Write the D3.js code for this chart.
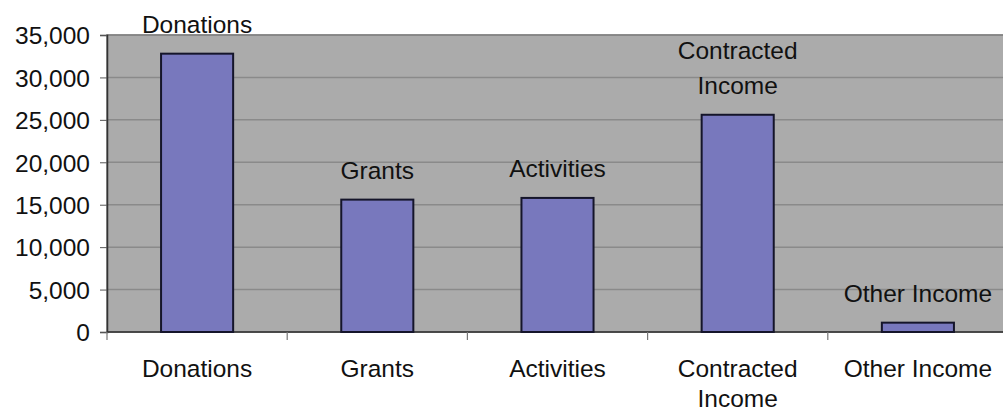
<!DOCTYPE html>
<html>
<head>
<meta charset="utf-8">
<script src="https://cdn.jsdelivr.net/npm/d3@7"></script>
<style>
body { margin: 0; background: #fff; }
text { font-family: "Liberation Sans", Arial, sans-serif; fill: #111; }
</style>
</head>
<body>
<script>
// data
var categories = ["Donations", "Grants", "Activities", "Contracted Income", "Other Income"];
var values = [32800, 15600, 15800, 25600, 1100];
var axisLines = [["Donations"], ["Grants"], ["Activities"], ["Contracted", "Income"], ["Other Income"]];
var barLines = [["Donations"], ["Grants"], ["Activities"], ["Contracted", "Income"], ["Other Income"]];
var yTicks = [0, 5000, 10000, 15000, 20000, 25000, 30000, 35000];

var width = 1003, height = 413;
var plotL = 107, plotR = 1008, plotT = 35, plotB = 332;
var fs = '24.5px';

var svg = d3.select('body')
	.append('svg')
	.attr('width', width)
	.attr('height', height);

var x = d3.scaleBand()
	.domain(categories)
	.range([plotL, plotR])
	.paddingInner(0.6)
	.paddingOuter(0.3);

var y = d3.scaleLinear()
	.domain([0, 35000])
	.range([plotB, plotT]);

// plot background
svg.append('rect')
	.attr('x', plotL)
	.attr('y', plotT)
	.attr('width', plotR - plotL)
	.attr('height', plotB - plotT)
	.attr('fill', '#ababab')
	.attr('stroke', '#707070')
	.attr('stroke-width', 1.5);

// gridlines
svg.selectAll('line.grid')
	.data(yTicks.slice(1))
	.enter().append('line')
	.attr('class', 'grid')
	.attr('x1', plotL)
	.attr('x2', plotR)
	.attr('y1', function(d) { return y(d); })
	.attr('y2', function(d) { return y(d); })
	.attr('stroke', '#8a8a8a')
	.attr('stroke-width', 1.5);

// y axis
var yAxis = svg.append('g')
	.attr('transform', 'translate(' + plotL + ',0)')
	.call(d3.axisLeft(y).tickValues(yTicks).tickSize(7).tickPadding(10)
		.tickFormat(d3.format(',')));
yAxis.selectAll('text').style('font-size', fs).attr('dy', '0.36em');
yAxis.select('.domain').attr('stroke', '#333').attr('stroke-width', 1.5);
yAxis.selectAll('.tick line').attr('stroke', '#555');

// x axis (ticks between categories)
var bounds = d3.range(categories.length + 1).map(function(i) { return plotL + i * (plotR - plotL) / categories.length; });
svg.append('line')
	.attr('x1', plotL).attr('x2', plotR)
	.attr('y1', plotB).attr('y2', plotB)
	.attr('stroke', '#333').attr('stroke-width', 1.5);
svg.selectAll('line.xtick')
	.data(bounds)
	.enter().append('line')
	.attr('class', 'xtick')
	.attr('x1', function(d) { return d; })
	.attr('x2', function(d) { return d; })
	.attr('y1', plotB)
	.attr('y2', plotB + 8)
	.attr('stroke', '#777')
	.attr('stroke-width', 1.2);

// bars
svg.selectAll('rect.bar')
	.data(values)
	.enter().append('rect')
	.attr('class', 'bar')
	.attr('x', function(d, i) { return x(categories[i]); })
	.attr('y', function(d) { return y(d); })
	.attr('width', x.bandwidth())
	.attr('height', function(d) { return plotB - y(d); })
	.attr('fill', '#7878bd')
	.attr('stroke', '#15152a')
	.attr('stroke-width', 2);

// category labels
svg.selectAll('text.cat')
	.data(axisLines)
	.enter().append('text')
	.attr('class', 'cat')
	.attr('text-anchor', 'middle')
	.style('font-size', fs)
	.each(function(d, i) {
		var t = d3.select(this);
		var cx = x(categories[i]) + x.bandwidth() / 2;
		d.forEach(function(s, k) {
			t.append('tspan').attr('x', cx).attr('y', 377 + k * 30).text(s);
		});
	});

// value labels above bars
svg.selectAll('text.lab')
	.data(barLines)
	.enter().append('text')
	.attr('class', 'lab')
	.attr('text-anchor', 'middle')
	.style('font-size', fs)
	.each(function(d, i) {
		var t = d3.select(this);
		var cx = x(categories[i]) + x.bandwidth() / 2;
		var base = y(values[i]) - 21 - (d.length - 1) * 35;
		d.forEach(function(s, k) {
			t.append('tspan').attr('x', cx).attr('y', base + k * 35).text(s);
		});
	});
</script>
</body>
</html>
